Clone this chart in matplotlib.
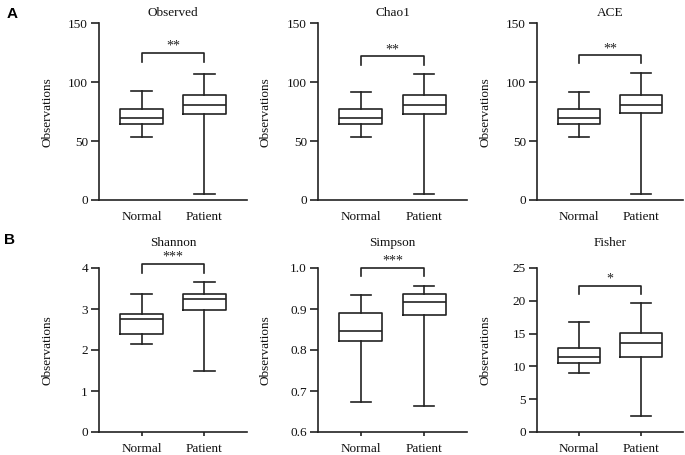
import matplotlib.pyplot as plt
from matplotlib.ticker import FormatStrFormatter

plt.rcParams['font.family'] = ['Liberation Serif', 'DejaVu Serif']
plt.rcParams['font.size'] = 9.5

groups = ['Normal', 'Patient']
titles = ['Observed', 'Chao1', 'ACE', 'Shannon', 'Simpson', 'Fisher']

# box stats per panel: [Normal, Patient]
whislo = [[53.3, 4.8], [53.3, 5.0], [53.3, 5.0], [2.15, 1.49], [0.672, 0.664], [8.94, 2.5]]
q1 = [[64.3, 73.0], [64.3, 73.4], [64.3, 73.7], [2.39, 2.98], [0.823, 0.885], [10.5, 11.5]]
med = [[69.7, 80.5], [70.0, 80.5], [70.0, 80.5], [2.76, 3.25], [0.847, 0.917], [11.4, 13.6]]
q3 = [[77.3, 89.5], [77.3, 89.0], [77.6, 89.0], [2.89, 3.37], [0.891, 0.937], [12.75, 15.1]]
whishi = [[92.6, 107.0], [92.0, 107.0], [92.0, 107.4], [3.36, 3.67], [0.933, 0.956], [16.7, 19.7]]

stars = ['**', '**', '**', '***', '***', '*']
bracket_top = [125, 122, 123, 4.1, 1.0, 22.3]
bracket_leg = [117, 114.7, 116, 3.89, 0.98, 21.0]

ylims = [(0, 150), (0, 150), (0, 150), (0, 4), (0.6, 1.0), (0, 25)]
yticks = [[0, 50, 100, 150]] * 3 + [[0, 1, 2, 3, 4], [0.6, 0.7, 0.8, 0.9, 1.0], [0, 5, 10, 15, 20, 25]]

W, H = 685, 455
col_px = [(99, 247), (318, 467), (537, 683)]
row_px = [(23.3, 200), (268, 432)]

ink = '#222222'
lw = 1.2

fig = plt.figure(figsize=(6.85, 4.55), dpi=100)

for i in range(6):
    r, c = divmod(i, 3)
    x0, x1 = col_px[c]
    t, b = row_px[r]
    ax = fig.add_axes([x0 / W, 1 - b / H, (x1 - x0) / W, (b - t) / H])

    stats = []
    for g in range(2):
        stats.append(dict(whislo=whislo[i][g], q1=q1[i][g], med=med[i][g],
                          q3=q3[i][g], whishi=whishi[i][g], fliers=[]))
    ax.bxp(stats, positions=[1, 2], widths=0.68, capwidths=0.33, showfliers=False,
           boxprops=dict(color=ink, linewidth=lw),
           medianprops=dict(color=ink, linewidth=lw),
           whiskerprops=dict(color=ink, linewidth=lw),
           capprops=dict(color=ink, linewidth=lw))

    ax.set_xlim(0.32, 2.68)
    ax.set_ylim(*ylims[i])
    ax.set_yticks(yticks[i])
    if i == 4:
        ax.yaxis.set_major_formatter(FormatStrFormatter('%.1f'))
    ax.set_xticks([1, 2])
    ax.set_xticklabels(groups)
    for s in ['top', 'right']:
        ax.spines[s].set_visible(False)
    for s in ['left', 'bottom']:
        ax.spines[s].set_color(ink)
        ax.spines[s].set_linewidth(lw)
    ax.tick_params(axis='y', length=6, width=lw, color=ink, labelcolor='#111111', pad=2)
    if r == 0:
        ax.tick_params(axis='x', length=0, pad=8, labelcolor='#111111')
    else:
        ax.tick_params(axis='x', length=3, width=lw, color=ink, pad=5, labelcolor='#111111')

    ax.set_ylabel('Observations', color='#111111')
    ax.yaxis.set_label_coords(-0.31, 0.5)
    ax.set_title(titles[i], pad=5.5 if r == 0 else 16, fontsize=9.5, color='#111111')

    bt, bl = bracket_top[i], bracket_leg[i]
    ax.plot([1, 1, 2, 2], [bl, bt, bt, bl], color=ink, linewidth=lw, clip_on=False)
    ax.text(1.5, bt, stars[i], ha='center', va='bottom', fontsize=10, color=ink, clip_on=False)

fig.text(0.009, 0.985, 'A', fontsize=11, fontweight='bold', family='Liberation Sans', va='top')
fig.text(0.006, 0.487, 'B', fontsize=11, fontweight='bold', family='Liberation Sans', va='top')

fig.savefig('out.png', dpi=100)
